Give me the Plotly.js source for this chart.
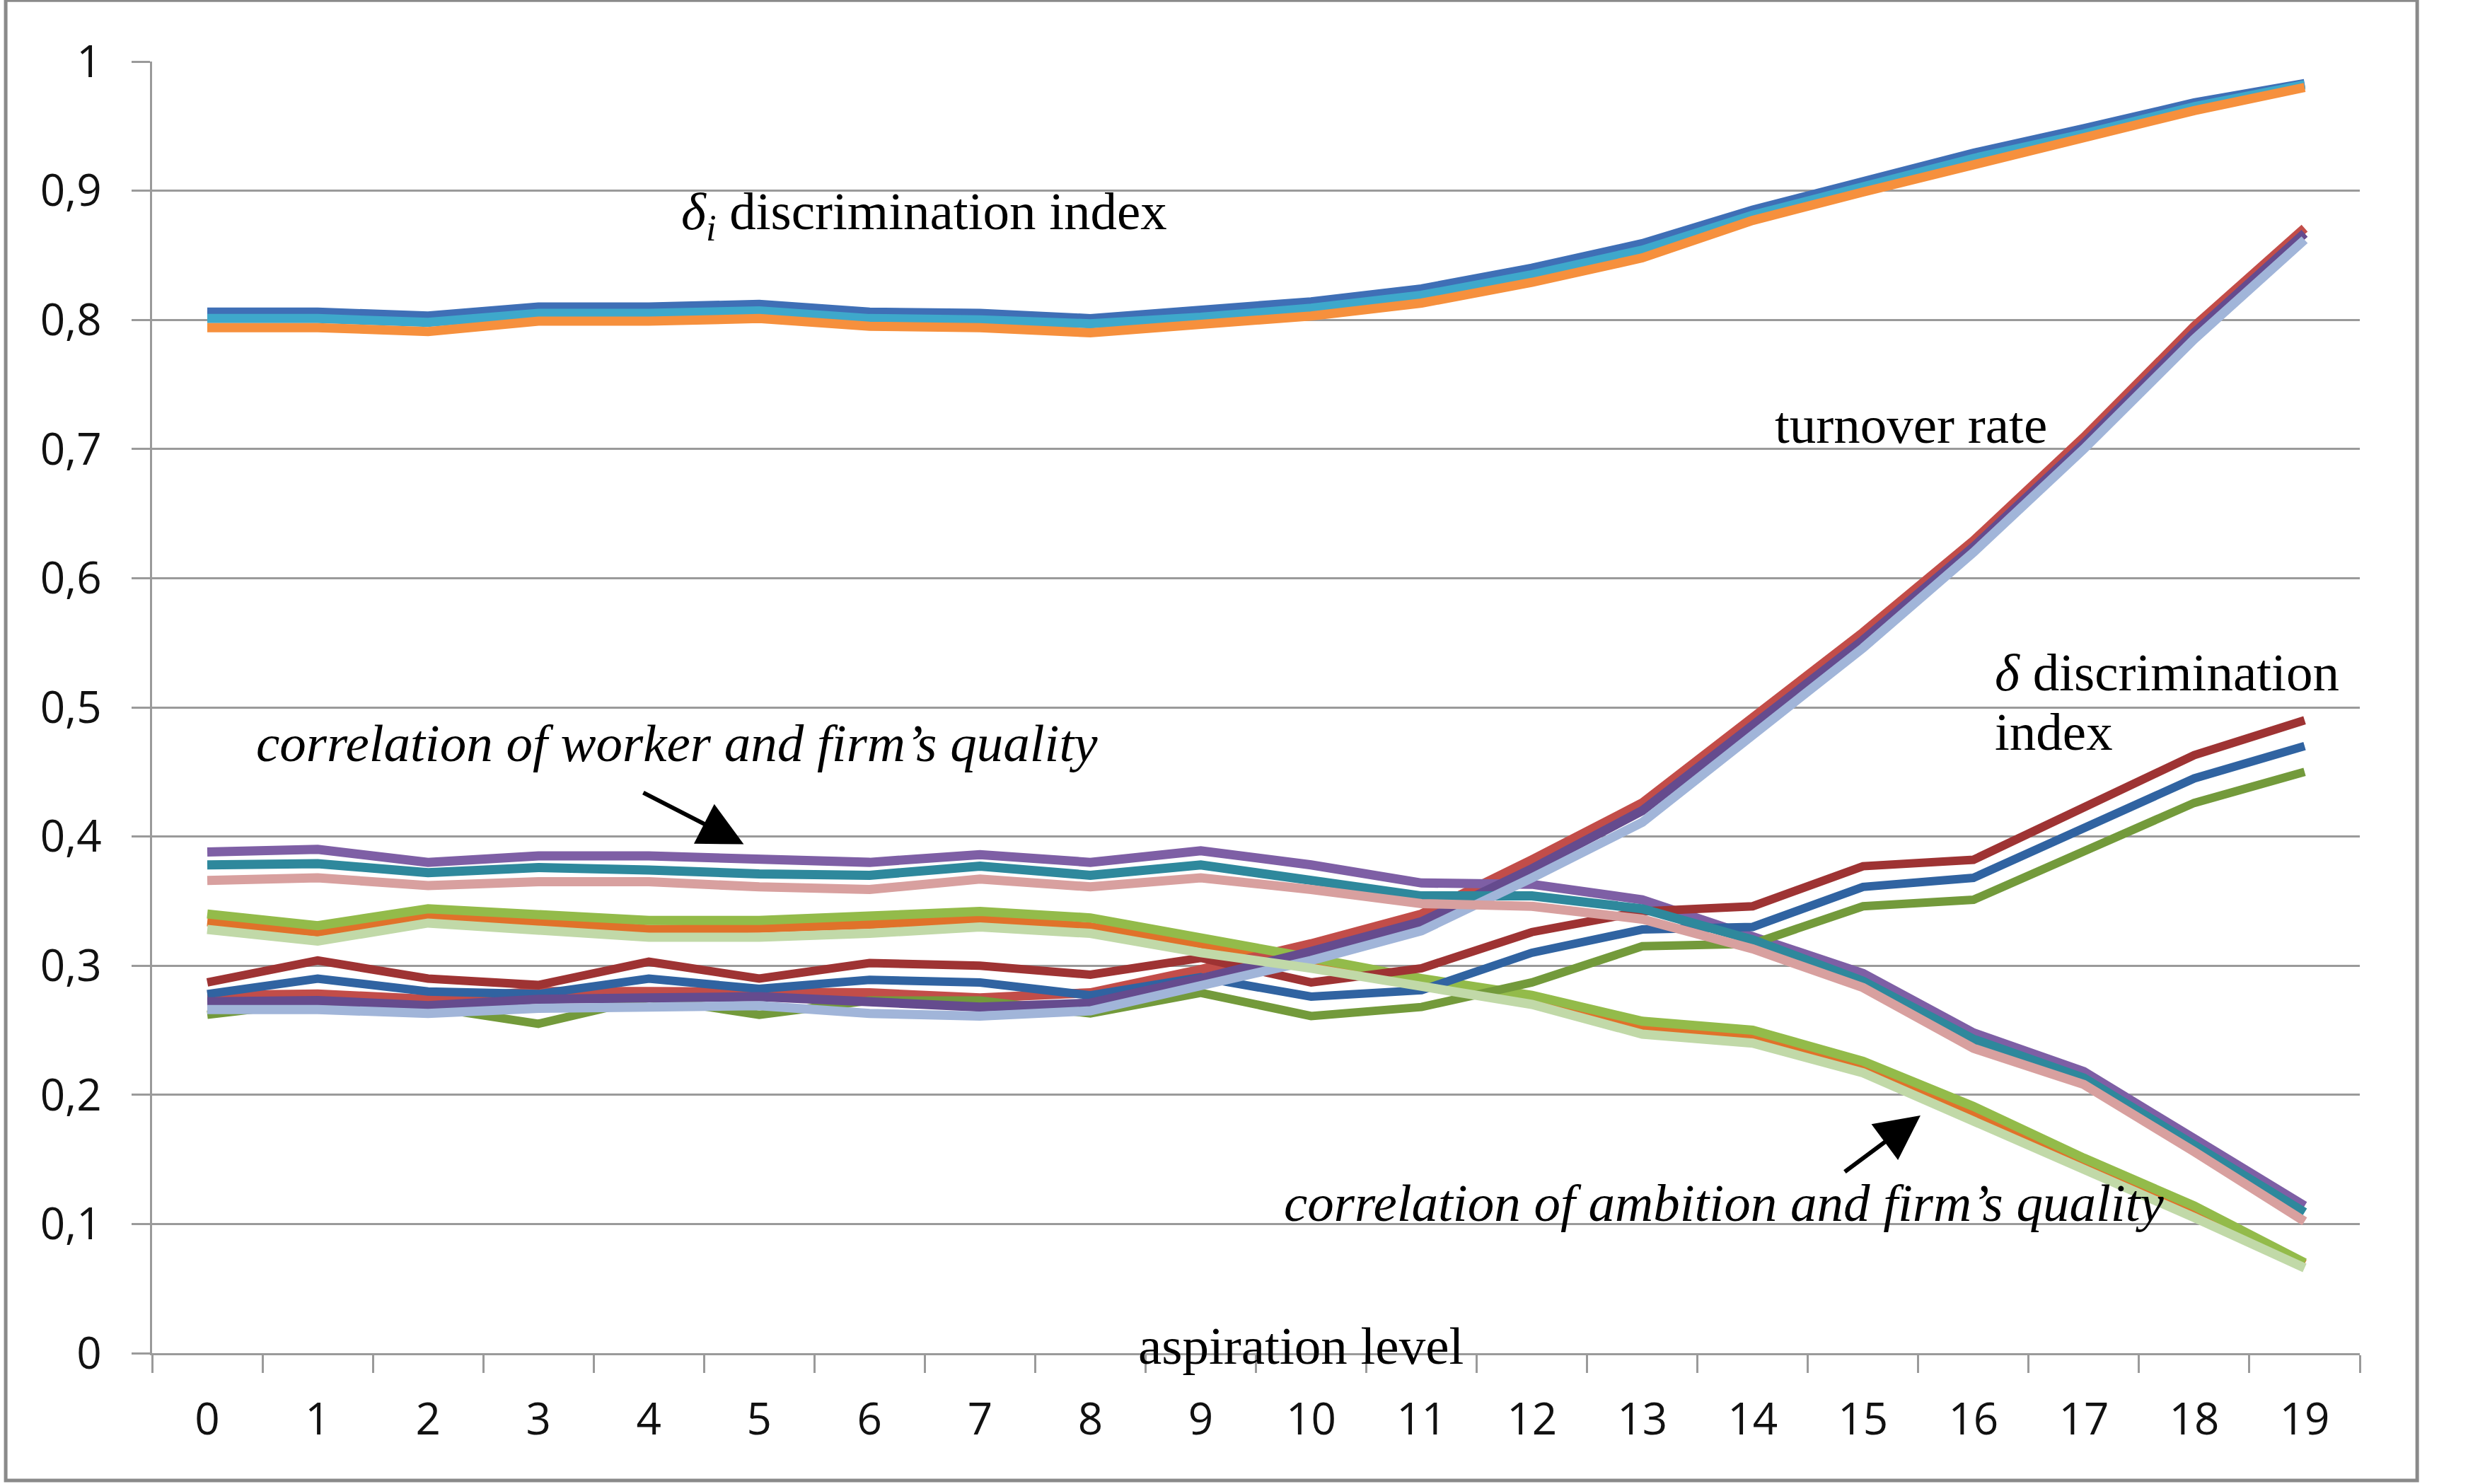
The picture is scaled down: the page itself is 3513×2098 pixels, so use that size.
<!DOCTYPE html>
<html>
<head>
<meta charset="utf-8">
<script src="https://cdn.plot.ly/plotly-3.0.1.min.js"></script>
<style>
  html, body { margin: 0; padding: 0; background: #ffffff; }
  #chart { width: 3513px; height: 2098px; }
</style>
</head>
<body>
<div id="chart"></div>
<script>
// ---- categories (aspiration level) ----
const aspirationLevels = ["0","1","2","3","4","5","6","7","8","9","10","11","12","13","14","15","16","17","18","19"];

// ---- y tick labels ----
const yTickVals = [0, 0.1, 0.2, 0.3, 0.4, 0.5, 0.6, 0.7, 0.8, 0.9, 1];
const yTickText = ["0", "0,1", "0,2", "0,3", "0,4", "0,5", "0,6", "0,7", "0,8", "0,9", "1"];

// ---- δi discrimination index group ----
const deltaI_blue   = [0.806, 0.806, 0.803, 0.810, 0.810, 0.812, 0.806, 0.805, 0.801, 0.807, 0.814, 0.824, 0.840, 0.859, 0.885, 0.907, 0.929, 0.948, 0.968, 0.983];
const deltaI_aqua   = [0.801, 0.801, 0.798, 0.805, 0.805, 0.807, 0.801, 0.800, 0.797, 0.802, 0.809, 0.819, 0.835, 0.854, 0.881, 0.903, 0.925, 0.944, 0.965, 0.982];
const deltaI_orange = [0.794, 0.794, 0.791, 0.799, 0.799, 0.801, 0.795, 0.794, 0.790, 0.797, 0.803, 0.813, 0.829, 0.848, 0.877, 0.899, 0.920, 0.940, 0.962, 0.980];

// ---- turnover rate group ----
const turnover_red       = [0.277, 0.278, 0.274, 0.280, 0.280, 0.280, 0.279, 0.275, 0.279, 0.297, 0.317, 0.340, 0.382, 0.426, 0.491, 0.558, 0.629, 0.709, 0.795, 0.871];
const turnover_purple    = [0.272, 0.273, 0.269, 0.274, 0.275, 0.276, 0.272, 0.268, 0.271, 0.290, 0.311, 0.334, 0.375, 0.420, 0.486, 0.552, 0.624, 0.704, 0.790, 0.867];
const turnover_lightblue = [0.266, 0.266, 0.263, 0.267, 0.268, 0.269, 0.263, 0.261, 0.265, 0.285, 0.304, 0.327, 0.368, 0.411, 0.478, 0.546, 0.620, 0.700, 0.785, 0.862];

// ---- δ discrimination index group ----
const delta_darkred   = [0.287, 0.304, 0.290, 0.285, 0.303, 0.290, 0.302, 0.300, 0.293, 0.306, 0.287, 0.298, 0.326, 0.342, 0.346, 0.377, 0.382, 0.422, 0.463, 0.490];
const delta_darkblue  = [0.278, 0.290, 0.280, 0.278, 0.290, 0.282, 0.289, 0.287, 0.277, 0.291, 0.276, 0.281, 0.310, 0.328, 0.330, 0.361, 0.368, 0.407, 0.445, 0.470];
const delta_darkgreen = [0.262, 0.272, 0.268, 0.255, 0.275, 0.262, 0.273, 0.273, 0.263, 0.279, 0.261, 0.268, 0.287, 0.315, 0.317, 0.346, 0.351, 0.388, 0.426, 0.450];

// ---- correlation of worker and firm's quality group ----
const corrWorker_purple   = [0.388, 0.390, 0.380, 0.385, 0.385, 0.382, 0.380, 0.386, 0.380, 0.389, 0.378, 0.364, 0.363, 0.351, 0.323, 0.294, 0.248, 0.218, 0.166, 0.114];
const corrWorker_darkaqua = [0.378, 0.379, 0.372, 0.376, 0.374, 0.371, 0.370, 0.377, 0.370, 0.378, 0.366, 0.354, 0.354, 0.344, 0.320, 0.288, 0.243, 0.213, 0.161, 0.109];
const corrWorker_pink     = [0.366, 0.368, 0.362, 0.365, 0.365, 0.361, 0.359, 0.367, 0.361, 0.368, 0.359, 0.348, 0.346, 0.336, 0.313, 0.283, 0.236, 0.208, 0.156, 0.102];

// ---- correlation of ambition and firm's quality group ----
const corrAmbition_green      = [0.340, 0.331, 0.344, 0.340, 0.335, 0.335, 0.339, 0.342, 0.337, 0.322, 0.306, 0.290, 0.277, 0.257, 0.250, 0.226, 0.191, 0.151, 0.114, 0.070];
const corrAmbition_orange     = [0.334, 0.326, 0.338, 0.334, 0.328, 0.329, 0.332, 0.336, 0.330, 0.317, 0.302, 0.287, 0.274, 0.253, 0.245, 0.220, 0.186, 0.147, 0.110, 0.069];
const corrAmbition_lightgreen = [0.328, 0.319, 0.333, 0.328, 0.322, 0.322, 0.325, 0.330, 0.325, 0.310, 0.298, 0.284, 0.270, 0.247, 0.240, 0.217, 0.180, 0.142, 0.105, 0.066];

// drawing order (later ones on top)
const seriesList = [
  {y: corrAmbition_orange,      color: "#E0722A", w: 13},
  {y: deltaI_blue,              color: "#3F6FB6", w: 13},
  {y: turnover_red,             color: "#C24D49", w: 13},
  {y: corrAmbition_green,       color: "#93BB4A", w: 13},
  {y: corrWorker_purple,        color: "#7E5FA5", w: 13},
  {y: deltaI_aqua,              color: "#3EA8CB", w: 13},
  {y: deltaI_orange,            color: "#F6903D", w: 13},
  {y: delta_darkblue,           color: "#3063A1", w: 12},
  {y: delta_darkred,            color: "#9E3333", w: 12},
  {y: delta_darkgreen,          color: "#739A3B", w: 12},
  {y: turnover_purple,          color: "#654B8E", w: 13},
  {y: corrWorker_darkaqua,      color: "#2E889C", w: 13},
  {y: turnover_lightblue,       color: "#A1B5D9", w: 13},
  {y: corrWorker_pink,          color: "#D8A09F", w: 13},
  {y: corrAmbition_lightgreen,  color: "#C1D9A8", w: 13}
];

const traces = seriesList.map(s => ({
  type: "scatter",
  mode: "lines",
  x: aspirationLevels,
  y: s.y,
  line: {color: s.color, width: s.w, shape: "linear"},
  hoverinfo: "skip"
}));

const serif = "Liberation Serif, Times New Roman, serif";
const labelFont = {family: serif, size: 75, color: "#000000"};
const tickFont = {family: "Open Sans, Liberation Sans, sans-serif", size: 62, color: "#111111"};

const annotations = [
  {x: 4.28, y: 0.881, xref: "x", yref: "y", text: "<i>δ<sub>i</sub></i> discrimination index", showarrow: false, xanchor: "left", yanchor: "middle", font: labelFont},
  {x: 14.19, y: 0.719, xref: "x", yref: "y", text: "turnover rate", showarrow: false, xanchor: "left", yanchor: "middle", font: labelFont},
  {x: 16.18, y: 0.527, xref: "x", yref: "y", text: "<i>δ</i> discrimination", showarrow: false, xanchor: "left", yanchor: "middle", font: labelFont},
  {x: 16.18, y: 0.481, xref: "x", yref: "y", text: "index", showarrow: false, xanchor: "left", yanchor: "middle", font: labelFont},
  {x: 0.43, y: 0.4726, xref: "x", yref: "y", text: "<i>correlation of worker and firm’s quality</i>", showarrow: false, xanchor: "left", yanchor: "middle", font: labelFont},
  {x: 9.74, y: 0.1166, xref: "x", yref: "y", text: "<i>correlation of ambition and firm’s quality</i>", showarrow: false, xanchor: "left", yanchor: "middle", font: labelFont},
  {x: 9.91, y: 0.0055, xref: "x", yref: "y", text: "aspiration level", showarrow: false, xanchor: "center", yanchor: "middle", font: labelFont},
  {x: 4.86, y: 0.394, xref: "x", yref: "y", text: " ", showarrow: true, arrowhead: 2, arrowsize: 2.1, arrowwidth: 6, arrowcolor: "#000000", ax: -144, ay: -74, font: {size: 2}},
  {x: 15.52, y: 0.184, xref: "x", yref: "y", text: " ", showarrow: true, arrowhead: 2, arrowsize: 2.1, arrowwidth: 6, arrowcolor: "#000000", ax: -109, ay: 81, font: {size: 2}}
];

const layout = {
  width: 3513,
  height: 2098,
  margin: {l: 215, r: 177, t: 87, b: 185, pad: 0},
  paper_bgcolor: "#ffffff",
  plot_bgcolor: "#ffffff",
  showlegend: false,
  separators: ", ",
  xaxis: {
    type: "category",
    range: [-0.5, 19.5],
    tickson: "boundaries",
    ticks: "outside",
    ticklen: 25,
    tickwidth: 3,
    tickcolor: "#9a9a9a",
    showline: true,
    linecolor: "#9a9a9a",
    linewidth: 3,
    showgrid: false,
    zeroline: false,
    tickfont: tickFont,
    ticklabelstandoff: 38,
    fixedrange: true
  },
  yaxis: {
    range: [0, 1],
    tickmode: "array",
    tickvals: yTickVals,
    ticktext: yTickText,
    ticks: "outside",
    ticklen: 26,
    tickwidth: 3,
    tickcolor: "#9a9a9a",
    showline: true,
    linecolor: "#9a9a9a",
    linewidth: 3,
    showgrid: true,
    gridcolor: "#9a9a9a",
    gridwidth: 3,
    zeroline: false,
    tickfont: tickFont,
    ticklabelstandoff: 30,
    fixedrange: true
  },
  shapes: [
    {type: "rect", xref: "paper", yref: "paper",
     x0: -0.0663, x1: 1.0260, y0: -0.0986, y1: 1.0475,
     line: {color: "#8a8a8a", width: 5}, fillcolor: "rgba(0,0,0,0)", layer: "below"}
  ],
  annotations: annotations
};

Plotly.newPlot("chart", traces, layout, {staticPlot: true, displayModeBar: false});
</script>
</body>
</html>
